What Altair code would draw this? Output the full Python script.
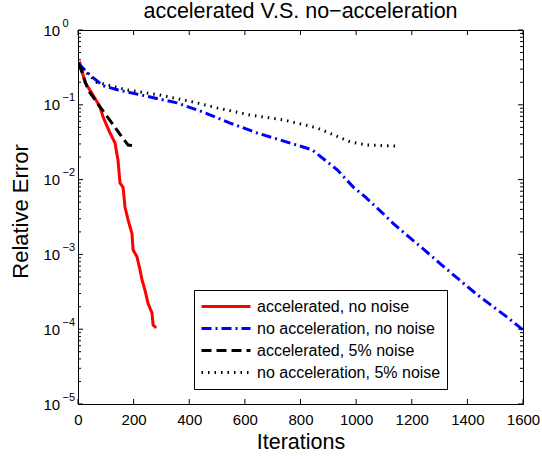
import altair as alt
import pandas as pd

FONT = "Liberation Sans"
W, H = 445, 374

series_names = [
    "accelerated, no noise",
    "no acceleration, no noise",
    "accelerated, 5% noise",
    "no acceleration, 5% noise",
]
series_colors = ["#ff0000", "#0000ff", "#000000", "#000000"]
series_dashes = [[1, 0], [10, 4, 2, 4], [10, 5], [1.5, 5]]
series_widths = [3, 3, 3, 1.2]

red_x = [0, 7, 25, 54, 79, 90, 115, 133, 144, 151, 162, 169, 180, 194, 198, 212, 223, 230, 241, 252, 266, 270, 281]
red_y = [0.35, 0.36, 0.20, 0.135, 0.094, 0.069, 0.042, 0.031, 0.018, 0.0090, 0.0079, 0.0043, 0.0029, 0.0019,
         0.00115, 0.00093, 0.00062, 0.00046, 0.00033, 0.00022, 0.000165, 0.000114, 0.000104]

blue_x = [0, 7, 43, 90, 144, 248, 356, 450, 547, 644, 737, 842, 932, 989, 1032, 1094, 1133, 1194, 1237, 1338, 1435, 1543, 1600]
blue_y = [0.36, 0.34, 0.25, 0.18, 0.158, 0.13, 0.106, 0.080, 0.057, 0.042, 0.033, 0.025, 0.0135, 0.0080, 0.0059,
          0.0036, 0.0026, 0.00166, 0.00122, 0.00058, 0.00029, 0.000145, 0.000098]

black_x = [0, 7, 36, 79, 122, 158, 180, 212]
black_y = [0.35, 0.33, 0.158, 0.094, 0.057, 0.037, 0.029, 0.028]

dot_x = [0, 30, 68, 176, 295, 414, 500, 619, 737, 860, 978, 1040, 1147]
dot_y = [0.36, 0.27, 0.20, 0.158, 0.135, 0.109, 0.091, 0.073, 0.063, 0.049, 0.032, 0.029, 0.028]

x_ticks = [0, 200, 400, 600, 800, 1000, 1200, 1400, 1600]
y_major = [1, 1e-1, 1e-2, 1e-3, 1e-4, 1e-5]
y_minor = [m * 10.0 ** (-k) for k in range(1, 6) for m in range(2, 10)]

rows = []
for name, xs, ys in zip(series_names, [red_x, blue_x, black_x, dot_x], [red_y, blue_y, black_y, dot_y]):
    for xv, yv in zip(xs, ys):
        rows.append({"series": name, "iter": xv, "err": yv})
df = pd.DataFrame(rows)

xscale = alt.Scale(domain=[0, 1600], nice=False, zero=False)
yscale = alt.Scale(type="log", domain=[1e-5, 1], nice=False)

expo_expr = "datum.value > 0.5 ? '0' : '−' + round(-log(datum.value) / LN10)"

lines = alt.Chart(df).mark_line(clip=True).encode(
    x=alt.X("iter:Q", scale=xscale,
            axis=alt.Axis(values=x_ticks, format="d", title="Iterations", ticks=False, domain=False, grid=False,
                          labelPadding=8, labelFontSize=15, titleFontSize=21.5, titleY=27,
                          titleBaseline="top", titleFontWeight="normal", labelOverlap=False,
                          labelFlush=False)),
    y=alt.Y("err:Q", scale=yscale,
            axis=alt.Axis(values=y_major, labelExpr="'10'", title="Relative Error", ticks=False,
                          domain=False, grid=False, labelAlign="left", labelPadding=35,
                          labelFontSize=15, titleFontSize=22, titleX=-46, titleY=181,
                          titleFontWeight="normal", orient="left", labelOverlap=False,
                          labelBaseline="middle", labelFlush=False)),
    color=alt.Color("series:N", scale=alt.Scale(domain=series_names, range=series_colors), title=None),
    strokeDash=alt.StrokeDash("series:N", scale=alt.Scale(domain=series_names, range=series_dashes), title=None),
    strokeWidth=alt.StrokeWidth("series:O", scale=alt.Scale(domain=series_names, range=series_widths), title=None),
)

xt = pd.DataFrame({"v": x_ticks})
ymaj = pd.DataFrame({"v": y_major})
ymin = pd.DataFrame({"v": y_minor})

tick_style = dict(color="black", strokeWidth=1)
xb = alt.Chart(xt).mark_rule(**tick_style).encode(x=alt.X("v:Q", scale=xscale), y=alt.value(H), y2=alt.value(H - 5))
xtop = alt.Chart(xt).mark_rule(**tick_style).encode(x=alt.X("v:Q", scale=xscale), y=alt.value(0), y2=alt.value(5))
yl = alt.Chart(ymaj).mark_rule(**tick_style).encode(y=alt.Y("v:Q", scale=yscale), x=alt.value(0), x2=alt.value(5))
yr = alt.Chart(ymaj).mark_rule(**tick_style).encode(y=alt.Y("v:Q", scale=yscale), x=alt.value(W), x2=alt.value(W - 5))
yml = alt.Chart(ymin).mark_rule(**tick_style).encode(y=alt.Y("v:Q", scale=yscale), x=alt.value(0), x2=alt.value(3))
ymr = alt.Chart(ymin).mark_rule(**tick_style).encode(y=alt.Y("v:Q", scale=yscale), x=alt.value(W), x2=alt.value(W - 3))

# exponent labels: a second left axis on an identical, independent log scale
expo = alt.Chart(ymaj).mark_rule(opacity=0).encode(
    y=alt.Y("v:Q", scale=yscale,
            axis=alt.Axis(values=y_major, labelExpr=expo_expr, title=None, ticks=False, domain=False,
                          grid=False, orient="left", labelAlign="left", labelPadding=16,
                          labelFontSize=11, labelOffset=-7, labelOverlap=False, labelBaseline="middle",
                          labelFlush=False)),
    x=alt.value(0),
)

main = alt.layer(lines, xb, xtop, yl, yr, yml, ymr)

chart = alt.layer(main, expo).resolve_scale(y="independent").properties(
    width=W, height=H,
    title=alt.TitleParams("accelerated V.S. no−acceleration", fontSize=21.5, fontWeight="normal",
                          font=FONT, offset=3, dy=8, frame="group", anchor="middle"),
    autosize=alt.AutoSizeParams(type="none"),
    padding={"left": 78, "top": 30, "right": 19, "bottom": 55},
).configure(
    font=FONT,
).configure_view(
    stroke="black", strokeWidth=1,
).configure_axis(
    labelFont=FONT, titleFont=FONT, labelColor="black", titleColor="black",
).configure_legend(
    orient="none", legendX=116, legendY=260,
    symbolType="stroke", symbolSize=2400, clipHeight=21, rowPadding=1,
    labelFontSize=16, labelFont=FONT, labelColor="black", labelOffset=5, labelLimit=400,
    strokeColor="black", fillColor="white", padding=6, cornerRadius=0,
    symbolStrokeWidth=3,
)

chart.save("out.html", embed_options={"renderer": "svg", "actions": False})
